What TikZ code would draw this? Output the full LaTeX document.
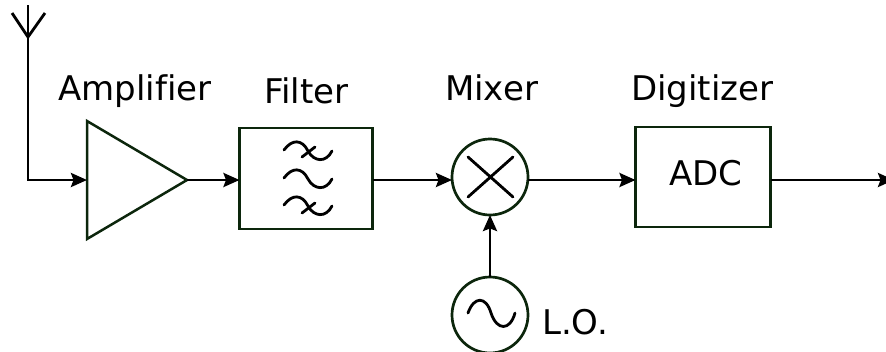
\documentclass[tikz,border=0pt]{standalone}
\usepackage{fontspec}
\setmainfont[Ligatures=NoCommon]{DejaVu Sans}
\usetikzlibrary{arrows.meta,shapes.geometric,calc}
\definecolor{shapegreen}{HTML}{0C260C}
\tikzset{
  blockbox/.style={draw=shapegreen,line width=2.7pt,rectangle,inner sep=0pt,outer sep=0pt,anchor=north west,font=\fontsize{34}{34}\selectfont},
  ringnode/.style={draw=shapegreen,line width=2.7pt,circle,inner sep=0pt,outer sep=0pt,minimum size=76pt},
  ampnode/.style={draw=shapegreen,line width=2.5pt,isosceles triangle,isosceles triangle stretches,shape border rotate=0,inner sep=0pt,outer sep=0pt,minimum width=118pt,minimum height=100pt,anchor=lower side},
  caption/.style={anchor=base west,inner sep=0pt,font=\fontsize{34}{34}\selectfont},
  wire/.style={draw=black,line width=2.8pt},
  sig/.style={wire,-{Stealth[length=16pt,width=14pt,inset=2.5pt]}},
  glyph/.style={draw=black,line width=2.8pt,line cap=round}
}
\begin{document}
\begin{tikzpicture}[x=1pt,y=-1pt]
\useasboundingbox (0,0) rectangle (886,351);
% blocks
\node[ampnode] (amp) at (87,180) {};
\node[blockbox,minimum width=133pt,minimum height=101pt] (filt) at (239.5,128) {};
\node[ringnode] (mix) at (490,177) {};
\node[ringnode] (lo) at (490,315) {};
\node[blockbox,minimum width=135pt,minimum height=100pt] (adc) at (635.5,127) {\hspace{6pt}\raisebox{8pt}{ADC}};
% labels
\node[caption] (lamp) at (58,100) {Amplifier};
\node[caption] (lfilt) at (264,103) {Filter};
\node[caption] (lmix) at (445,100) {Mixer};
\node[caption] (ldig) at (631,100) {Digitizer};
\node[caption] (llo) at (542,334) {L.O.};
% antenna
\coordinate (anttop) at (28,5);
\coordinate (antv) at (28,37);
\coordinate (antl) at (12,13);
\coordinate (antr) at (45,13);
\coordinate (outend) at (894,180);
\draw[wire] (antl) -- (antv) -- (antr);
\draw[sig] (anttop) |- (amp.lower side);
% connectors
\draw[sig] (amp.apex) -- (amp.apex -| filt.west);
\draw[sig] (amp.apex -| filt.east) -- (amp.apex -| mix.west);
\draw[sig] (amp.apex -| mix.east) -- (amp.apex -| adc.west);
\draw[sig] (amp.apex -| adc.east) -- (outend);
\draw[sig] (lo.north) -- (mix.south);
% mixer cross
\draw[glyph] (468,157) -- (513,197) (513,157) -- (468,197);
% filter waves
\foreach \yy in {151,179,206}{
  \draw[glyph] (284,\yy-1) .. controls (292,\yy-12) and (302,\yy-12) .. (308,\yy) .. controls (314,\yy+11) and (326,\yy+12) .. (332,\yy);
}
\draw[glyph] (302,157) -- (315,147);
\draw[glyph] (302,213) -- (315,203);
% oscillator wave
\draw[glyph] (468,313) .. controls (474,296) and (486,296) .. (491,313) .. controls (497,331) and (510,331) .. (515,313);
\end{tikzpicture}
\end{document}
